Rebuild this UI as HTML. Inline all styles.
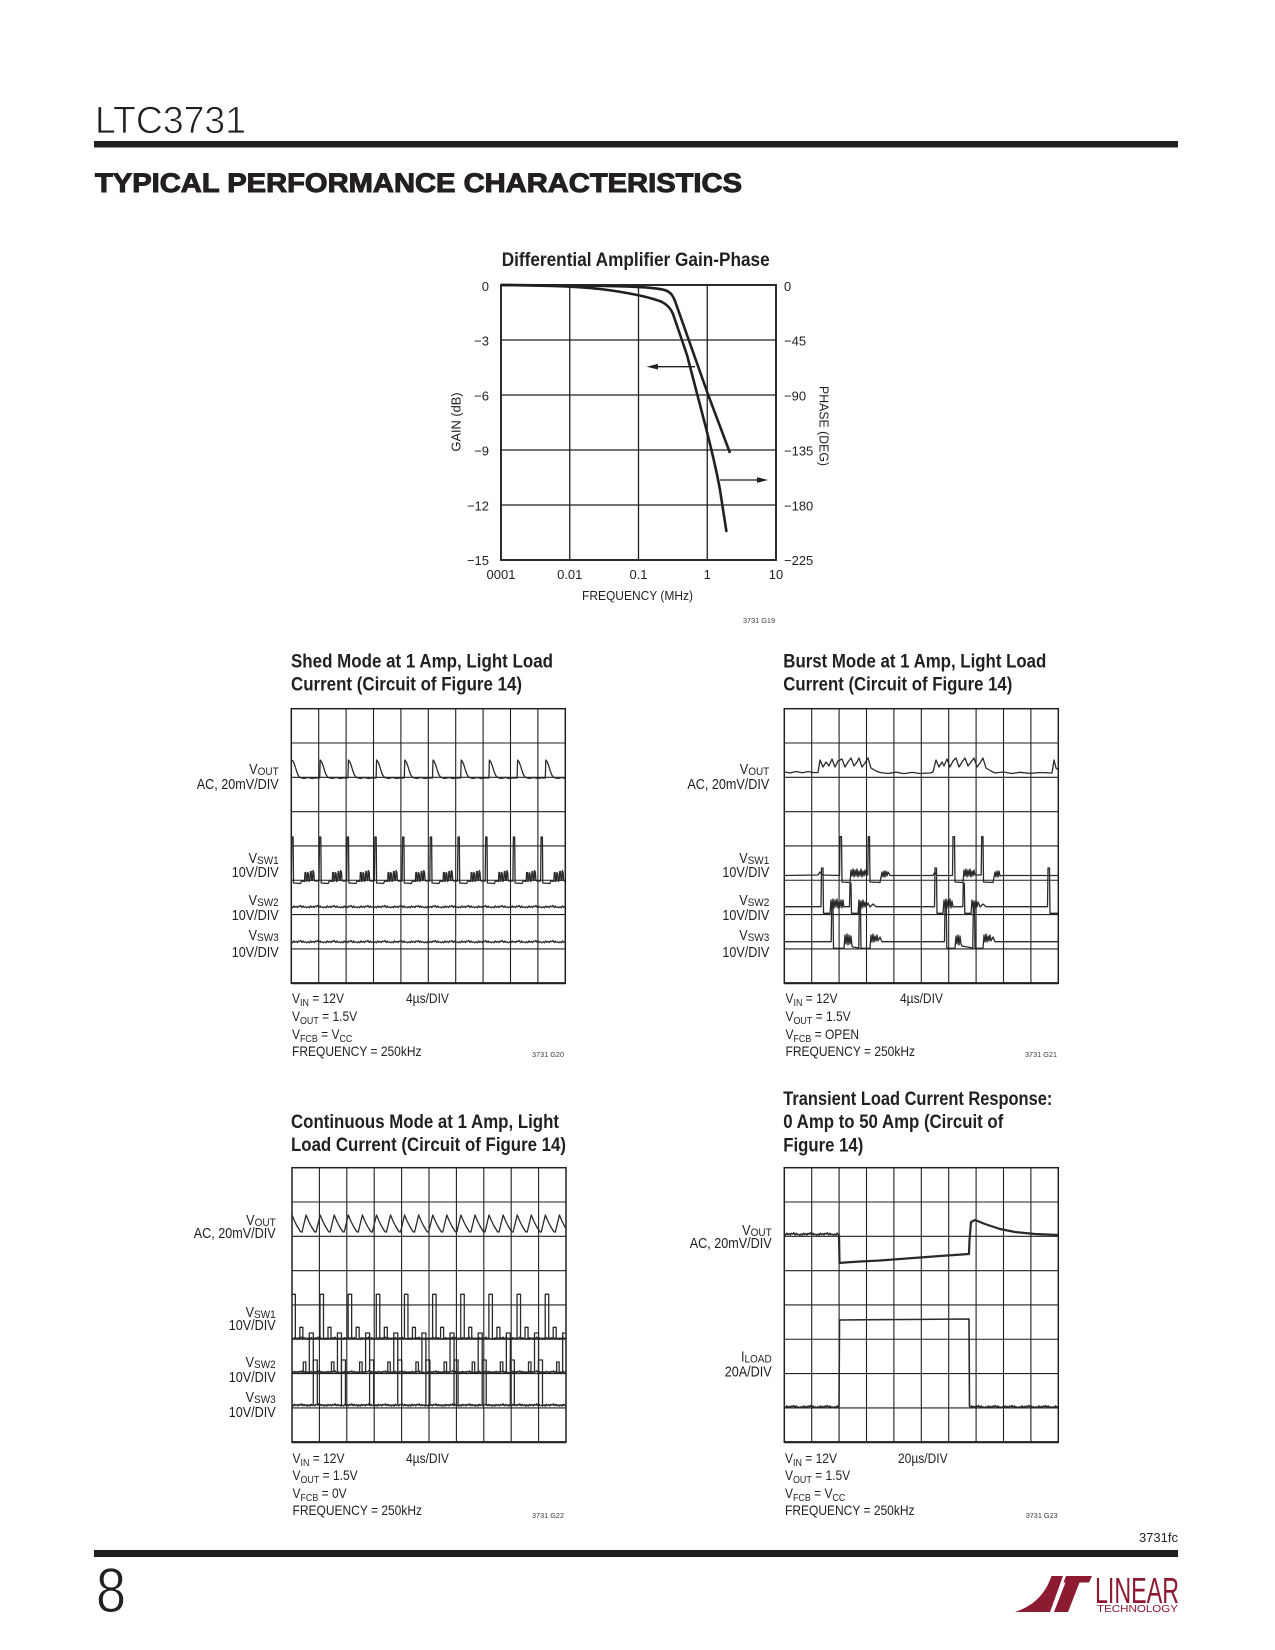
<!DOCTYPE html>
<html><head><meta charset="utf-8"><title>LTC3731 Typical Performance Characteristics</title>
<style>
html,body{margin:0;padding:0;background:#fff;}
svg{display:block;}
text{font-family:"Liberation Sans",Arial,sans-serif;fill:#231f20;}
.t{font-family:"Liberation Sans Narrow","Liberation Sans",sans-serif;font-weight:bold;font-size:19px;}
.sm{font-size:7.5px;fill:#3a3a3a;}
</style></head><body>
<svg width="1275" height="1650" viewBox="0 0 1275 1650" xmlns="http://www.w3.org/2000/svg">
<defs>
<path id="nz" fill="none" d="M0,0 l1.2,1.1 1.3,-1.9 1,1.4 1.5,-0.9 1.1,1.2 0.9,-1.5 1.4,0.6 1,-1.2 1.4,2 1.2,-1.5 0.8,1.3 1.5,-0.4 1.1,0.9 1.4,-1.1 1.2,1.1 1.3,-1.9 1,1.4 1.5,-0.9 1.1,1.2 0.9,-1.5 1.4,0.6 1,-1.2 1.4,2 1.2,-1.5 0.8,1.3 1.5,-0.4 1.1,0.9 1.4,-1.1 1.2,1.1 1.3,-1.9 1,1.4 1.5,-0.9 1.1,1.2 0.9,-1.5 1.4,0.6 1,-1.2 1.4,2 1.2,-1.5 0.8,1.3 1.5,-0.4 1.1,0.9 1.4,-1.1 1.2,1.1 1.3,-1.9 1,1.4 1.5,-0.9 1.1,1.2 0.9,-1.5 1.4,0.6 1,-1.2 1.4,2 1.2,-1.5 0.8,1.3 1.5,-0.4 1.1,0.9 1.4,-1.1 1.2,1.1 1.3,-1.9 1,1.4 1.5,-0.9 1.1,1.2 0.9,-1.5 1.4,0.6 1,-1.2 1.4,2 1.2,-1.5 0.8,1.3 1.5,-0.4 1.1,0.9 1.4,-1.1 1.2,1.1 1.3,-1.9 1,1.4 1.5,-0.9 1.1,1.2 0.9,-1.5 1.4,0.6 1,-1.2 1.4,2 1.2,-1.5 0.8,1.3 1.5,-0.4 1.1,0.9 1.4,-1.1 1.2,1.1 1.3,-1.9 1,1.4 1.5,-0.9 1.1,1.2 0.9,-1.5 1.4,0.6 1,-1.2 1.4,2 1.2,-1.5 0.8,1.3 1.5,-0.4 1.1,0.9 1.4,-1.1 1.2,1.1 1.3,-1.9 1,1.4 1.5,-0.9 1.1,1.2 0.9,-1.5 1.4,0.6 1,-1.2 1.4,2 1.2,-1.5 0.8,1.3 1.5,-0.4 1.1,0.9 1.4,-1.1 1.2,1.1 1.3,-1.9 1,1.4 1.5,-0.9 1.1,1.2 0.9,-1.5 1.4,0.6 1,-1.2 1.4,2 1.2,-1.5 0.8,1.3 1.5,-0.4 1.1,0.9 1.4,-1.1 1.2,1.1 1.3,-1.9 1,1.4 1.5,-0.9 1.1,1.2 0.9,-1.5 1.4,0.6 1,-1.2 1.4,2 1.2,-1.5 0.8,1.3 1.5,-0.4 1.1,0.9 1.4,-1.1 1.2,1.1 1.3,-1.9 1,1.4 1.5,-0.9 1.1,1.2 0.9,-1.5 1.4,0.6 1,-1.2 1.4,2 1.2,-1.5 0.8,1.3 1.5,-0.4 1.1,0.9 1.4,-1.1 1.2,1.1 1.3,-1.9 1,1.4 1.5,-0.9 1.1,1.2 0.9,-1.5 1.4,0.6 1,-1.2 1.4,2 1.2,-1.5 0.8,1.3 1.5,-0.4 1.1,0.9 1.4,-1.1 1.2,1.1 1.3,-1.9 1,1.4 1.5,-0.9 1.1,1.2 0.9,-1.5 1.4,0.6 1,-1.2 1.4,2 1.2,-1.5 0.8,1.3 1.5,-0.4 1.1,0.9 1.4,-1.1 1.2,1.1 1.3,-1.9 1,1.4 1.5,-0.9 1.1,1.2 0.9,-1.5 1.4,0.6 1,-1.2 1.4,2 1.2,-1.5 0.8,1.3 1.5,-0.4 1.1,0.9 1.4,-1.1 1.2,1.1 1.3,-1.9 1,1.4 1.5,-0.9 1.1,1.2 0.9,-1.5 1.4,0.6 1,-1.2 1.4,2 1.2,-1.5 0.8,1.3 1.5,-0.4 1.1,0.9 1.4,-1.1 1.2,1.1 1.3,-1.9 1,1.4 1.5,-0.9 1.1,1.2 0.9,-1.5 1.4,0.6 1,-1.2 1.4,2 1.2,-1.5 0.8,1.3 1.5,-0.4 1.1,0.9 1.4,-1.1 1.2,1.1 1.3,-1.9 1,1.4 1.5,-0.9 1.1,1.2 0.9,-1.5 1.4,0.6 1,-1.2 1.4,2 1.2,-1.5 0.8,1.3 1.5,-0.4 1.1,0.9 1.4,-1.1 1.2,1.1 1.3,-1.9 1,1.4 1.5,-0.9 1.1,1.2 0.9,-1.5 1.4,0.6 1,-1.2 1.4,2 1.2,-1.5 0.8,1.3 1.5,-0.4 1.1,0.9 1.4,-1.1 1.2,1.1 1.3,-1.9 1,1.4 1.5,-0.9 1.1,1.2 0.9,-1.5 1.4,0.6 1,-1.2 1.4,2 1.2,-1.5 0.8,1.3 1.5,-0.4 1.1,0.9 1.4,-1.1 1.2,1.1 1.3,-1.9 1,1.4 1.5,-0.9 1.1,1.2 0.9,-1.5 1.4,0.6 1,-1.2 1.4,2 1.2,-1.5 0.8,1.3 1.5,-0.4 1.1,0.9 1.4,-1.1 1.2,1.1 1.3,-1.9 1,1.4 1.5,-0.9 1.1,1.2 0.9,-1.5 1.4,0.6 1,-1.2 1.4,2 1.2,-1.5 0.8,1.3 1.5,-0.4 1.1,0.9 1.4,-1.1"/>
<g id="grid" fill="none" stroke="#231f20">
 <path stroke-width="1.1" d="M27.4,0V274.5M54.8,0V274.5M82.2,0V274.5M109.6,0V274.5M137,0V274.5M164.4,0V274.5M191.8,0V274.5M219.2,0V274.5M246.6,0V274.5M0,34.31H274M0,68.63H274M0,102.94H274M0,137.25H274M0,171.56H274M0,205.88H274M0,240.19H274"/>
 <rect x="0" y="0" width="274" height="274.5" stroke-width="1.5"/>
 <path stroke-width="2.2" d="M0,274.5H274"/>
</g>
<clipPath id="c1"><rect x="291.3" y="708.7" width="274" height="274.5"/></clipPath>
<clipPath id="c2"><rect x="784.3" y="708.7" width="274" height="274.5"/></clipPath>
<clipPath id="c3"><rect x="292" y="1167.7" width="274" height="274.5"/></clipPath>
<clipPath id="c4"><rect x="784.3" y="1167.7" width="274" height="274.5"/></clipPath>
<clipPath id="c4a"><rect x="784.3" y="1200" width="54.7" height="60"/></clipPath>
<clipPath id="c4b"><rect x="784.3" y="1380" width="54.7" height="50"/><rect x="969.5" y="1380" width="88.8" height="50"/></clipPath>
</defs>

<!-- Header -->
<text x="95" y="133" font-size="38" textLength="151" lengthAdjust="spacingAndGlyphs" stroke="#fff" stroke-width="0.8">LTC3731</text>
<rect x="94" y="141" width="1084" height="6.5" fill="#231f20"/>
<text x="95" y="192" font-size="26.5" font-weight="bold" textLength="647" lengthAdjust="spacingAndGlyphs" stroke="#231f20" stroke-width="1">TYPICAL PERFORMANCE CHARACTERISTICS</text>

<!-- Gain-Phase chart -->
<text class="t" x="501.7" y="266" font-size="18.5" textLength="268" lengthAdjust="spacingAndGlyphs">Differential Amplifier Gain-Phase</text>
<g fill="none" stroke="#231f20">
 <path stroke-width="1.3" d="M569.75,285V560M638.5,285V560M707.25,285V560M501,340H776M501,395H776M501,450H776M501,505H776"/>
 <rect x="501" y="285" width="275" height="275" stroke-width="1.9"/>
 <path stroke-width="2.6" stroke-linejoin="round" d="M501,285 L600,285.8 C635,286.5 658,287.5 666,290.5 C671,292.5 673,296 675,301 L707.5,393 L730,453"/>
 <path stroke-width="2.6" stroke-linejoin="round" d="M501,285 C540,285.5 575,286 600,289 C625,292 650,297 662,302 C668,305 671,309 673,314 L687,355 L706,428 C711,448 716,467 720,490 L726.5,532"/>
 <path stroke-width="1.3" d="M695,366.7H655M720,480H758"/>
</g>
<polygon points="646.7,366.7 658,363.9 658,369.5" fill="#231f20"/>
<polygon points="768.3,480 757,477.2 757,482.8" fill="#231f20"/>
<g font-size="13" text-anchor="end">
 <text x="489" y="291">0</text>
 <text x="489" y="345.5">−3</text>
 <text x="489" y="400.5">−6</text>
 <text x="489" y="455.5">−9</text>
 <text x="489" y="510.5">−12</text>
 <text x="489" y="565">−15</text>
</g>
<g font-size="13">
 <text x="784" y="291">0</text>
 <text x="784" y="345.5">−45</text>
 <text x="784" y="400.5">−90</text>
 <text x="784" y="455.5">−135</text>
 <text x="784" y="510.5">−180</text>
 <text x="784" y="565">−225</text>
</g>
<g font-size="13" text-anchor="middle">
 <text x="501" y="579">0001</text>
 <text x="569.75" y="579">0.01</text>
 <text x="638.5" y="579">0.1</text>
 <text x="707.25" y="579">1</text>
 <text x="776" y="579">10</text>
 <text x="637.5" y="600" textLength="111" lengthAdjust="spacingAndGlyphs">FREQUENCY (MHz)</text>
 <text transform="translate(460.7,422) rotate(-90)" textLength="59" lengthAdjust="spacingAndGlyphs">GAIN (dB)</text>
 <text transform="translate(819.3,426) rotate(90)" textLength="80" lengthAdjust="spacingAndGlyphs">PHASE (DEG)</text>
</g>
<text class="sm" x="743" y="623" textLength="32" lengthAdjust="spacingAndGlyphs">3731 G19</text>

<!-- Shed Mode -->
<text class="t" x="291" y="667.5" textLength="262" lengthAdjust="spacingAndGlyphs">Shed Mode at 1 Amp, Light Load</text>
<text class="t" x="291" y="690.5" textLength="231" lengthAdjust="spacingAndGlyphs">Current (Circuit of Figure 14)</text>
<use href="#grid" x="291.3" y="708.7"/>
<g clip-path="url(#c1)" fill="none" stroke="#2a2a2a" stroke-width="1.3" stroke-linejoin="round">
 <path d="M292,760 l1.5,2 1.5,4 1.5,5 1.5,4 2,2.5 4,1 4,-1 4,1 4,-0.7 3.7,0.2 0.5,-18 1.5,2 1.5,4 1.5,5 1.5,4 2,2.5 4,1 4,-1 4,1 4,-0.7 3.7,0.2 0.5,-18 1.5,2 1.5,4 1.5,5 1.5,4 2,2.5 4,1 4,-1 4,1 4,-0.7 3.7,0.2 0.5,-18 1.5,2 1.5,4 1.5,5 1.5,4 2,2.5 4,1 4,-1 4,1 4,-0.7 3.7,0.2 0.5,-18 1.5,2 1.5,4 1.5,5 1.5,4 2,2.5 4,1 4,-1 4,1 4,-0.7 3.7,0.2 0.5,-18 1.5,2 1.5,4 1.5,5 1.5,4 2,2.5 4,1 4,-1 4,1 4,-0.7 3.7,0.2 0.5,-18 1.5,2 1.5,4 1.5,5 1.5,4 2,2.5 4,1 4,-1 4,1 4,-0.7 3.7,0.2 0.5,-18 1.5,2 1.5,4 1.5,5 1.5,4 2,2.5 4,1 4,-1 4,1 4,-0.7 3.7,0.2 0.5,-18 1.5,2 1.5,4 1.5,5 1.5,4 2,2.5 4,1 4,-1 4,1 4,-0.7 3.7,0.2 0.5,-18 1.5,2 1.5,4 1.5,5 1.5,4 2,2.5 4,1 4,-1 4,1 4,-0.7 3.7,0.2 0.5,-18"/>
 <path d="M291.3,881 l0.5,-44 1.3,0 0.4,46 7,0.5 1,-2.5 3,0.5 0.5,-9 0.8,0 0.5,9 0.8,-1 0.5,-8 0.8,1 0.5,8 1,-1 0.5,-9 0.8,0 0.5,9 0.8,0 0.5,-10 0.8,2 0.5,8 1,0.5 3.7,0 0.5,-44 1.3,0 0.4,46 7,0.5 1,-2.5 3,0.5 0.5,-9 0.8,0 0.5,9 0.8,-1 0.5,-8 0.8,1 0.5,8 1,-1 0.5,-9 0.8,0 0.5,9 0.8,0 0.5,-10 0.8,2 0.5,8 1,0.5 3.7,0 0.5,-44 1.3,0 0.4,46 7,0.5 1,-2.5 3,0.5 0.5,-9 0.8,0 0.5,9 0.8,-1 0.5,-8 0.8,1 0.5,8 1,-1 0.5,-9 0.8,0 0.5,9 0.8,0 0.5,-10 0.8,2 0.5,8 1,0.5 3.7,0 0.5,-44 1.3,0 0.4,46 7,0.5 1,-2.5 3,0.5 0.5,-9 0.8,0 0.5,9 0.8,-1 0.5,-8 0.8,1 0.5,8 1,-1 0.5,-9 0.8,0 0.5,9 0.8,0 0.5,-10 0.8,2 0.5,8 1,0.5 3.7,0 0.5,-44 1.3,0 0.4,46 7,0.5 1,-2.5 3,0.5 0.5,-9 0.8,0 0.5,9 0.8,-1 0.5,-8 0.8,1 0.5,8 1,-1 0.5,-9 0.8,0 0.5,9 0.8,0 0.5,-10 0.8,2 0.5,8 1,0.5 3.7,0 0.5,-44 1.3,0 0.4,46 7,0.5 1,-2.5 3,0.5 0.5,-9 0.8,0 0.5,9 0.8,-1 0.5,-8 0.8,1 0.5,8 1,-1 0.5,-9 0.8,0 0.5,9 0.8,0 0.5,-10 0.8,2 0.5,8 1,0.5 3.7,0 0.5,-44 1.3,0 0.4,46 7,0.5 1,-2.5 3,0.5 0.5,-9 0.8,0 0.5,9 0.8,-1 0.5,-8 0.8,1 0.5,8 1,-1 0.5,-9 0.8,0 0.5,9 0.8,0 0.5,-10 0.8,2 0.5,8 1,0.5 3.7,0 0.5,-44 1.3,0 0.4,46 7,0.5 1,-2.5 3,0.5 0.5,-9 0.8,0 0.5,9 0.8,-1 0.5,-8 0.8,1 0.5,8 1,-1 0.5,-9 0.8,0 0.5,9 0.8,0 0.5,-10 0.8,2 0.5,8 1,0.5 3.7,0 0.5,-44 1.3,0 0.4,46 7,0.5 1,-2.5 3,0.5 0.5,-9 0.8,0 0.5,9 0.8,-1 0.5,-8 0.8,1 0.5,8 1,-1 0.5,-9 0.8,0 0.5,9 0.8,0 0.5,-10 0.8,2 0.5,8 1,0.5 3.7,0 0.5,-44 1.3,0 0.4,46 7,0.5 1,-2.5 3,0.5 0.5,-9 0.8,0 0.5,9 0.8,-1 0.5,-8 0.8,1 0.5,8 1,-1 0.5,-9 0.8,0 0.5,9 0.8,0 0.5,-10 0.8,2 0.5,8 1,0.5 3.7,0"/>
 <use href="#nz" x="291.3" y="906.7"/>
 <use href="#nz" x="291.3" y="941.7"/>
</g>
<g font-size="14.5" text-anchor="end">
 <g transform="translate(278.7,774) scale(0.87,1)"><text>V<tspan font-size="11.5" dy="1">OUT</tspan></text></g>
 <g transform="translate(278.7,789) scale(0.87,1)"><text>AC, 20mV/DIV</text></g>
 <g transform="translate(278.7,863) scale(0.87,1)"><text>V<tspan font-size="11.5" dy="1">SW1</tspan></text></g>
 <g transform="translate(278.7,877) scale(0.87,1)"><text>10V/DIV</text></g>
 <g transform="translate(278.7,905) scale(0.87,1)"><text>V<tspan font-size="11.5" dy="1">SW2</tspan></text></g>
 <g transform="translate(278.7,920) scale(0.87,1)"><text>10V/DIV</text></g>
 <g transform="translate(278.7,940) scale(0.87,1)"><text>V<tspan font-size="11.5" dy="1">SW3</tspan></text></g>
 <g transform="translate(278.7,957) scale(0.87,1)"><text>10V/DIV</text></g>
</g>
<g font-size="13.5">
 <g transform="translate(292,1003) scale(0.89,1)"><text>V<tspan font-size="10" dy="3">IN</tspan><tspan dy="-3"> = 12V</tspan></text></g>
 <g transform="translate(406,1003) scale(0.89,1)"><text>4µs/DIV</text></g>
 <g transform="translate(292,1021) scale(0.89,1)"><text>V<tspan font-size="10" dy="3">OUT</tspan><tspan dy="-3"> = 1.5V</tspan></text></g>
 <g transform="translate(292,1039) scale(0.89,1)"><text>V<tspan font-size="10" dy="3">FCB</tspan><tspan dy="-3"> = V</tspan><tspan font-size="10" dy="3">CC</tspan></text></g>
 <g transform="translate(292,1056) scale(0.89,1)"><text>FREQUENCY = 250kHz</text></g>
</g>
<text class="sm" x="532" y="1057" textLength="32" lengthAdjust="spacingAndGlyphs">3731 G20</text>

<!-- Burst Mode -->
<text class="t" x="783.3" y="667.5" textLength="263" lengthAdjust="spacingAndGlyphs">Burst Mode at 1 Amp, Light Load</text>
<text class="t" x="783.3" y="690.5" textLength="229" lengthAdjust="spacingAndGlyphs">Current (Circuit of Figure 14)</text>
<use href="#grid" x="784.3" y="708.7"/>
<g clip-path="url(#c2)" fill="none" stroke="#2a2a2a" stroke-width="1.3" stroke-linejoin="round">
 <path d="M784.3,772 L790,773 L796,771.5 L802,772.8 L808,771.6 L814,772.6 L818,772.5 L820,760 L823,767 L826,762 L829,766 L832,759 L835,767 L838,761 L842,759 L845,767 L848,762 L851,758 L854,766 L857,762 L859,758 L862,767 L865,763 L868,758 L871,768 L876,771 L880,772.5 L888,773.5 L896,772.2 L904,773.6 L912,772.4 L920,773.5 L930,773 L933,772 L936,760 L939,767 L942,762 L944,766 L947,759 L950,767 L953,761 L956,758 L959,767 L962,762 L965,758 L968,766 L971,762 L974,758 L977,767 L980,763 L983,758 L986,768 L991,771 L995,773 L1003,772 L1012,773.5 L1020,772.3 L1030,773.4 L1040,772.5 L1052,773 L1054,760 L1056,768 L1058.3,770"/>
 <path d="M784.3,875.5 L818,875 L820,872 L822,875 L839.5,875.5 L840,836.7 L841.5,836.7 L842,882 L850,882.5 L851,870 L852,876 L853,869 L854,877 L855,870 L856,876 L857,869 L858,877 L859,871 L860,876 L861,869 L862,877 L863,871 L864,876 L865,870 L866,875 L867.8,875 L868.3,836.7 L869.5,836.7 L870,882 L880,882.5 L882,872 L883,877 L884,871 L885,877 L886,871 L887,876 L888,872 L890,875.5 L933,875.5 L935,872 L937,875.5 L952.5,875.5 L953,836.7 L954.5,836.7 L955,882 L963,882.5 L964,870 L965,876 L966,869 L967,877 L968,870 L969,876 L970,869 L971,877 L972,871 L973,876 L974,870 L975,875 L981.2,875 L981.7,836.7 L983,836.7 L983.5,882 L993,882.5 L995,872 L996,877 L997,871 L998,877 L999,871 L1000,876 L1002,875.5 L1058.3,875.5"/>
 <path d="M784.3,906.7 L821,906.7 L821.5,868 L823,868 L823.5,913.3 L830,913.3 L831,900 L832,908 L833,899 L834,908 L835,900 L836,907 L837,899 L838,908 L839,901 L840,907 L841,900 L842,908 L843,900 L844,907 L846,906.7 L849.5,906.7 L850,883.3 L851,883.3 L851.5,913.3 L858,913.3 L859,900 L860,907 L861,901 L862,908 L863,900 L864,907 L865,902 L866,907 L868,903 L870,907 L873,904 L876,906.7 L934.5,906.7 L935,868 L936.5,868 L937,913.3 L943,913.3 L944,900 L945,908 L946,899 L947,908 L948,900 L949,907 L950,899 L951,908 L952,901 L953,907 L955,906.7 L962.8,906.7 L963.3,883.3 L964.3,883.3 L964.8,913.3 L971,913.3 L972,900 L973,907 L974,901 L975,908 L976,900 L977,907 L978,902 L980,907 L983,904 L986,906.7 L1047.5,906.7 L1048,868 L1049.5,868 L1050,913.3 L1058.3,913.3"/>
 <path d="M784.3,941.7 L831.2,941.7 L831.7,905 L833,905 L833.5,948.3 L844,948.3 L845,935 L846,944 L847,934 L848,945 L849,935 L850,944 L851,936 L852,946 L853,947 L858.8,948 L859.3,905 L860.5,905 L861,948.3 L870,948.3 L871,935 L872,942 L873,934 L874,942 L875,936 L876,941 L877,935 L878,941 L880,937 L882,941.7 L944.5,941.7 L945,905 L946.3,905 L946.8,948.3 L955,948.3 L956,936 L957,944 L958,935 L959,945 L960,936 L961,944 L962,946 L972.8,948 L973.3,905 L974.5,905 L975,948.3 L983,948.3 L984,935 L985,942 L986,934 L987,942 L988,936 L989,941 L990,935 L991,941 L993,937 L995,941.7 L1058.3,941.7"/>
</g>
<g font-size="14.5" text-anchor="end">
 <g transform="translate(769.3,774) scale(0.87,1)"><text>V<tspan font-size="11.5" dy="1">OUT</tspan></text></g>
 <g transform="translate(769.3,789) scale(0.87,1)"><text>AC, 20mV/DIV</text></g>
 <g transform="translate(769.3,863) scale(0.87,1)"><text>V<tspan font-size="11.5" dy="1">SW1</tspan></text></g>
 <g transform="translate(769.3,877) scale(0.87,1)"><text>10V/DIV</text></g>
 <g transform="translate(769.3,905) scale(0.87,1)"><text>V<tspan font-size="11.5" dy="1">SW2</tspan></text></g>
 <g transform="translate(769.3,920) scale(0.87,1)"><text>10V/DIV</text></g>
 <g transform="translate(769.3,940) scale(0.87,1)"><text>V<tspan font-size="11.5" dy="1">SW3</tspan></text></g>
 <g transform="translate(769.3,957) scale(0.87,1)"><text>10V/DIV</text></g>
</g>
<g font-size="13.5">
 <g transform="translate(785.5,1003) scale(0.89,1)"><text>V<tspan font-size="10" dy="3">IN</tspan><tspan dy="-3"> = 12V</tspan></text></g>
 <g transform="translate(900,1003) scale(0.89,1)"><text>4µs/DIV</text></g>
 <g transform="translate(785.5,1021) scale(0.89,1)"><text>V<tspan font-size="10" dy="3">OUT</tspan><tspan dy="-3"> = 1.5V</tspan></text></g>
 <g transform="translate(785.5,1039) scale(0.89,1)"><text>V<tspan font-size="10" dy="3">FCB</tspan><tspan dy="-3"> = OPEN</tspan></text></g>
 <g transform="translate(785.5,1056) scale(0.89,1)"><text>FREQUENCY = 250kHz</text></g>
</g>
<text class="sm" x="1025" y="1057" textLength="32" lengthAdjust="spacingAndGlyphs">3731 G21</text>

<!-- Continuous Mode -->
<text class="t" x="291" y="1128" textLength="268" lengthAdjust="spacingAndGlyphs">Continuous Mode at 1 Amp, Light</text>
<text class="t" x="291" y="1151" textLength="275" lengthAdjust="spacingAndGlyphs">Load Current (Circuit of Figure 14)</text>
<use href="#grid" x="292" y="1167.7"/>
<g clip-path="url(#c3)" fill="none" stroke="#2a2a2a" stroke-width="1.3" stroke-linejoin="round">
 <use href="#nz" x="292" y="1338.3"/>
 <use href="#nz" x="292" y="1372"/>
 <use href="#nz" x="292" y="1405"/>
 <path d="M292,1215 l2.5,6 2.5,5 3,5 1,1 1,0 4.075,-17 2.5,6 2.5,5 3,5 1,1 1,0 4.075,-17 2.5,6 2.5,5 3,5 1,1 1,0 4.075,-17 2.5,6 2.5,5 3,5 1,1 1,0 4.075,-17 2.5,6 2.5,5 3,5 1,1 1,0 4.075,-17 2.5,6 2.5,5 3,5 1,1 1,0 4.075,-17 2.5,6 2.5,5 3,5 1,1 1,0 4.075,-17 2.5,6 2.5,5 3,5 1,1 1,0 4.075,-17 2.5,6 2.5,5 3,5 1,1 1,0 4.075,-17 2.5,6 2.5,5 3,5 1,1 1,0 4.075,-17 2.5,6 2.5,5 3,5 1,1 1,0 4.075,-17 2.5,6 2.5,5 3,5 1,1 1,0 4.075,-17 2.5,6 2.5,5 3,5 1,1 1,0 4.075,-17 2.5,6 2.5,5 3,5 1,1 1,0 4.075,-17 2.5,6 2.5,5 3,5 1,1 1,0 4.075,-17 2.5,6 2.5,5 3,5 1,1 1,0 4.075,-17 2.5,6 2.5,5 3,5 1,1 1,0 4.075,-17 2.5,6 2.5,5 3,5 1,1 1,0 4.075,-17 2.5,6 2.5,5 3,5 1,1 1,0 4.075,-17 2.5,6 2.5,5 3,5 1,1 1,0 4.075,-17"/>
 <path d="M291.85,1338.3 l0,-44 3.5,0 0,44 4.5,0 0,-11 3,0 0,11 17.15,0 0,-44 3.5,0 0,44 4.5,0 0,-11 3,0 0,11 17.15,0 0,-44 3.5,0 0,44 4.5,0 0,-11 3,0 0,11 17.15,0 0,-44 3.5,0 0,44 4.5,0 0,-11 3,0 0,11 17.15,0 0,-44 3.5,0 0,44 4.5,0 0,-11 3,0 0,11 17.15,0 0,-44 3.5,0 0,44 4.5,0 0,-11 3,0 0,11 17.15,0 0,-44 3.5,0 0,44 4.5,0 0,-11 3,0 0,11 17.15,0 0,-44 3.5,0 0,44 4.5,0 0,-11 3,0 0,11 17.15,0 0,-44 3.5,0 0,44 4.5,0 0,-11 3,0 0,11 17.15,0 0,-44 3.5,0 0,44 4.5,0 0,-11 3,0 0,11 17.15,0"/>
 <path d="M292,1372 L303.3,1372 l0,-10 2.5,0 0,10 3.5,0 0,-39 4,0 0,39 18.15,0 0,-10 2.5,0 0,10 3.5,0 0,-39 4,0 0,39 18.15,0 0,-10 2.5,0 0,10 3.5,0 0,-39 4,0 0,39 18.15,0 0,-10 2.5,0 0,10 3.5,0 0,-39 4,0 0,39 18.15,0 0,-10 2.5,0 0,10 3.5,0 0,-39 4,0 0,39 18.15,0 0,-10 2.5,0 0,10 3.5,0 0,-39 4,0 0,39 18.15,0 0,-10 2.5,0 0,10 3.5,0 0,-39 4,0 0,39 18.15,0 0,-10 2.5,0 0,10 3.5,0 0,-39 4,0 0,39 18.15,0 0,-10 2.5,0 0,10 3.5,0 0,-39 4,0 0,39 18.15,0 0,-10 2.5,0 0,10 3.5,0 0,-39 4,0 0,39 18.15,0"/>
 <path d="M292,1405 L313.3,1405 l0,-45 4,0 0,45 24.15,0 0,-45 4,0 0,45 24.15,0 0,-45 4,0 0,45 24.15,0 0,-45 4,0 0,45 24.15,0 0,-45 4,0 0,45 24.15,0 0,-45 4,0 0,45 24.15,0 0,-45 4,0 0,45 24.15,0 0,-45 4,0 0,45 24.15,0 0,-45 4,0 0,45 24.15,0 0,-45 4,0 0,45 24.15,0"/>
</g>
<g font-size="14.5" text-anchor="end">
 <g transform="translate(275.7,1225) scale(0.87,1)"><text>V<tspan font-size="11.5" dy="1">OUT</tspan></text></g>
 <g transform="translate(275.7,1238) scale(0.87,1)"><text>AC, 20mV/DIV</text></g>
 <g transform="translate(275.7,1317) scale(0.87,1)"><text>V<tspan font-size="11.5" dy="1">SW1</tspan></text></g>
 <g transform="translate(275.7,1330) scale(0.87,1)"><text>10V/DIV</text></g>
 <g transform="translate(275.7,1367) scale(0.87,1)"><text>V<tspan font-size="11.5" dy="1">SW2</tspan></text></g>
 <g transform="translate(275.7,1382) scale(0.87,1)"><text>10V/DIV</text></g>
 <g transform="translate(275.7,1402) scale(0.87,1)"><text>V<tspan font-size="11.5" dy="1">SW3</tspan></text></g>
 <g transform="translate(275.7,1417) scale(0.87,1)"><text>10V/DIV</text></g>
</g>
<g font-size="13.5">
 <g transform="translate(292.5,1463) scale(0.89,1)"><text>V<tspan font-size="10" dy="3">IN</tspan><tspan dy="-3"> = 12V</tspan></text></g>
 <g transform="translate(406,1463) scale(0.89,1)"><text>4µs/DIV</text></g>
 <g transform="translate(292.5,1480) scale(0.89,1)"><text>V<tspan font-size="10" dy="3">OUT</tspan><tspan dy="-3"> = 1.5V</tspan></text></g>
 <g transform="translate(292.5,1498) scale(0.89,1)"><text>V<tspan font-size="10" dy="3">FCB</tspan><tspan dy="-3"> = 0V</tspan></text></g>
 <g transform="translate(292.5,1515) scale(0.89,1)"><text>FREQUENCY = 250kHz</text></g>
</g>
<text class="sm" x="532" y="1518" textLength="32" lengthAdjust="spacingAndGlyphs">3731 G22</text>

<!-- Transient -->
<text class="t" x="783.3" y="1105" textLength="269" lengthAdjust="spacingAndGlyphs">Transient Load Current Response:</text>
<text class="t" x="783.3" y="1128" textLength="220" lengthAdjust="spacingAndGlyphs">0 Amp to 50 Amp (Circuit of</text>
<text class="t" x="783.3" y="1151.5" textLength="80" lengthAdjust="spacingAndGlyphs">Figure 14)</text>
<use href="#grid" x="784.3" y="1167.7"/>
<g fill="none" stroke="#2a2a2a" stroke-width="1.5" stroke-linejoin="round">
 <g clip-path="url(#c4a)"><use href="#nz" x="784.3" y="1234"/></g>
 <g clip-path="url(#c4b)"><use href="#nz" x="784.3" y="1406.7"/></g>
 <g clip-path="url(#c4)">
  <path stroke-width="2.2" d="M839,1234.5 L839.5,1263 L845,1262.5 L860,1261.5 L880,1260.5 L900,1259 L920,1257.5 L940,1256 L969,1254 L969.5,1240 L971,1222 L975,1220 L985,1224 L1000,1229 L1015,1232 L1035,1234 L1058.3,1235"/>
  <path stroke-width="1.6" d="M839,1406.7 L839.5,1320 L969,1319 L969.5,1406.7"/>
 </g>
</g>
<g font-size="14.5" text-anchor="end">
 <g transform="translate(771.7,1235) scale(0.87,1)"><text>V<tspan font-size="11.5" dy="1">OUT</tspan></text></g>
 <g transform="translate(771.7,1248) scale(0.87,1)"><text>AC, 20mV/DIV</text></g>
 <g transform="translate(771.7,1361.5) scale(0.87,1)"><text>I<tspan font-size="11.5" dy="1">LOAD</tspan></text></g>
 <g transform="translate(771.7,1376.5) scale(0.87,1)"><text>20A/DIV</text></g>
</g>
<g font-size="13.5">
 <g transform="translate(785,1463) scale(0.89,1)"><text>V<tspan font-size="10" dy="3">IN</tspan><tspan dy="-3"> = 12V</tspan></text></g>
 <g transform="translate(898,1463) scale(0.89,1)"><text>20µs/DIV</text></g>
 <g transform="translate(785,1480) scale(0.89,1)"><text>V<tspan font-size="10" dy="3">OUT</tspan><tspan dy="-3"> = 1.5V</tspan></text></g>
 <g transform="translate(785,1498) scale(0.89,1)"><text>V<tspan font-size="10" dy="3">FCB</tspan><tspan dy="-3"> = V</tspan><tspan font-size="10" dy="3">CC</tspan></text></g>
 <g transform="translate(785,1515) scale(0.89,1)"><text>FREQUENCY = 250kHz</text></g>
</g>
<text class="sm" x="1025.7" y="1518" textLength="32" lengthAdjust="spacingAndGlyphs">3731 G23</text>

<!-- Footer -->
<text x="1178" y="1542" font-size="13" text-anchor="end">3731fc</text>
<rect x="94" y="1550" width="1084" height="7" fill="#231f20"/>
<text x="96" y="1612" font-size="63" textLength="30" lengthAdjust="spacingAndGlyphs" stroke="#fff" stroke-width="1">8</text>
<g fill="#8c1a30">
 <path d="M1015,1612 C1033,1606 1045,1595 1051.5,1576 L1063,1576 L1050,1612 Z"/>
 <path d="M1066,1576 L1092,1576 L1089,1582.5 L1079.5,1582.5 L1068,1612 L1054,1612 L1065.5,1582.5 L1063.5,1582.5 Z"/>
 <text x="1095" y="1603" font-size="36" textLength="84" lengthAdjust="spacingAndGlyphs" style="fill:#8c1a30;font-family:'Liberation Sans Narrow','Liberation Sans',sans-serif">LINEAR</text>
 <text x="1097" y="1612" font-size="9.8" textLength="81" lengthAdjust="spacingAndGlyphs" style="fill:#8c1a30">TECHNOLOGY</text>
</g>
</svg>
</body></html>
